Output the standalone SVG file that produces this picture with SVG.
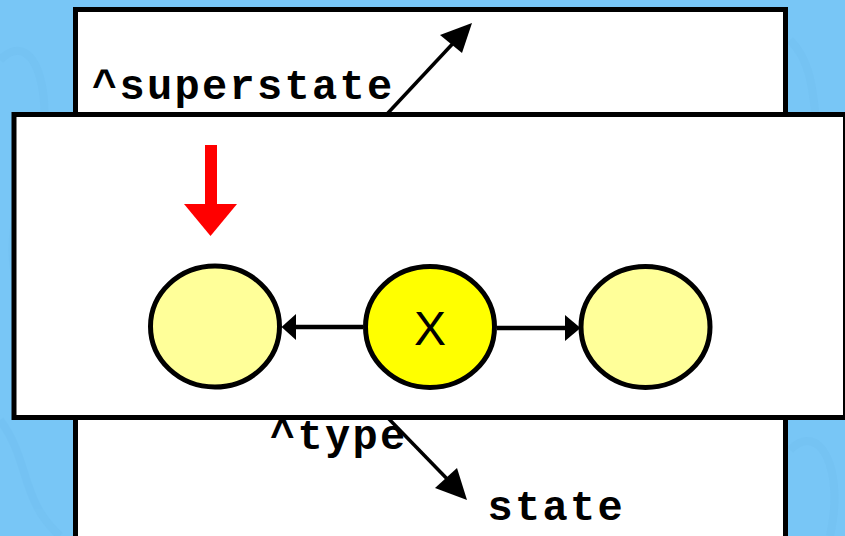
<svg xmlns="http://www.w3.org/2000/svg" width="845" height="536" viewBox="0 0 845 536">
  <style>
    .box { fill: #ffffff; stroke: #000000; stroke-width: 5; }
    .mono { font-family: "Courier New", "Liberation Mono", monospace; font-size: 42px; font-weight: bold; letter-spacing: 2.3px; fill: #000000; }
    .node { stroke: #000000; stroke-width: 5; }
    .side { fill: #ffff99; }
    .focus { fill: #ffff00; }
    .edge { stroke: #000000; stroke-width: 4.5; fill: none; }
    .diag { stroke: #000000; stroke-width: 3.5; fill: none; }
    .head { fill: #000000; }
    .label { font-family: "Liberation Sans", Arial, sans-serif; font-size: 48px; fill: #000000; }
  </style>
  <!-- background -->
  <rect x="0" y="0" width="845" height="536" fill="#78c6f6"/>
  <g fill="none" stroke="#6fbdee" stroke-width="8" opacity="0.35">
    <path d="M0 60 C 40 20, 60 120, 30 180 S 10 300, 50 340"/>
    <path d="M790 40 C 830 80, 800 150, 845 200"/>
    <path d="M790 450 C 820 420, 845 470, 830 536"/>
    <path d="M0 420 C 30 460, 20 500, 60 536"/>
  </g>

  <!-- back layer: superstate frame -->
  <g id="superstate-frame">
    <rect class="box" x="75.5" y="9.5" width="710" height="560"/>
    <text class="mono" x="92" y="99">^superstate</text>
    <text class="mono" x="270" y="449">^type</text>
    <text class="mono" x="487.5" y="520">state</text>
  </g>

  <g id="back-connectors">
    <line class="diag" x1="387" y1="114" x2="458" y2="38"/>
    <polygon class="head" points="472,23 440,35 462,53"/>
    <line class="diag" x1="387" y1="417" x2="454" y2="486"/>
    <polygon class="head" points="467,500 435,488 457,468"/>
  </g>

  <!-- front layer -->
  <g id="state-frame">
    <rect class="box" x="14" y="114.5" width="831.5" height="303"/>
  </g>

  <g id="connectors">
    <line class="edge" x1="363" y1="327" x2="294" y2="327"/>
    <polygon class="head" points="281.5,327 296,314 296,340"/>
    <line class="edge" x1="497" y1="328" x2="567" y2="328"/>
    <polygon class="head" points="580.5,328 565,315 565,341"/>
  </g>

  <g id="pointer">
    <rect x="205" y="145" width="12" height="61" fill="#ff0000"/>
    <polygon points="184,204 237,204 210.5,236" fill="#ff0000"/>
  </g>

  <g id="node-left">
    <ellipse class="node side" cx="215" cy="326.5" rx="64.5" ry="60.5"/>
  </g>
  <g id="node-x">
    <ellipse class="node focus" cx="430" cy="327" rx="64.5" ry="60.5"/>
    <text class="label" x="430" y="345" text-anchor="middle">X</text>
  </g>
  <g id="node-right">
    <ellipse class="node side" cx="645.5" cy="327" rx="64.5" ry="60.5"/>
  </g>
</svg>
